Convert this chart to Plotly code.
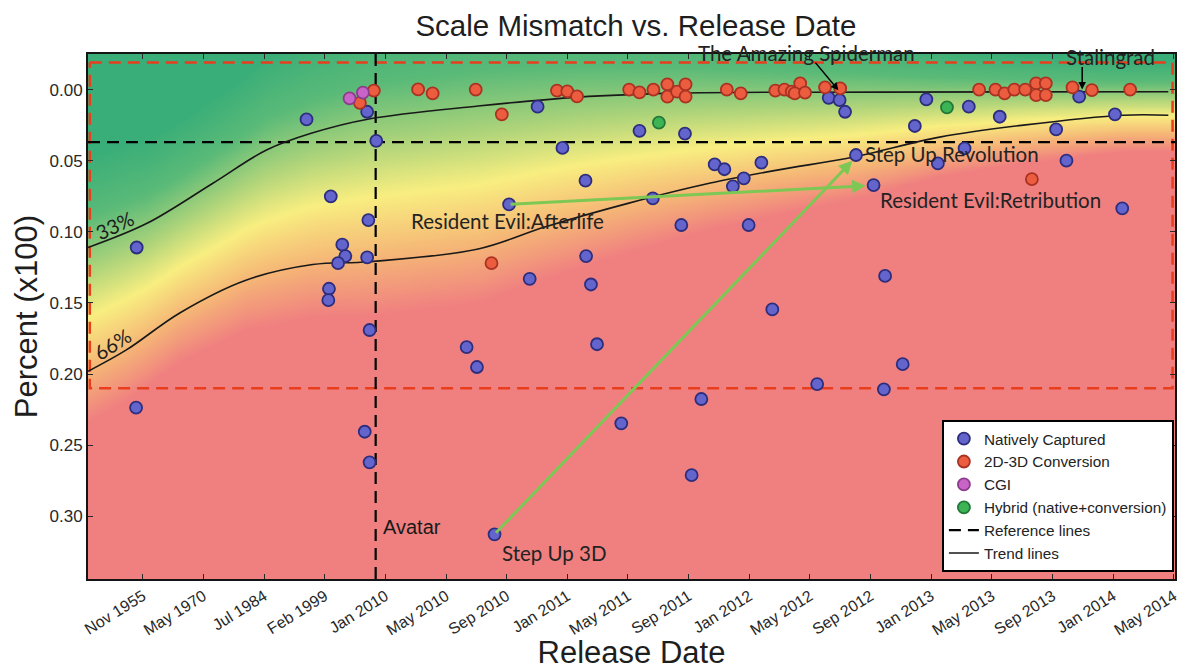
import numpy as np
import plotly.graph_objects as go

# ---------------- data ----------------
tick_labels = ["Nov 1955", "May 1970", "Jul 1984", "Feb 1999", "Jan 2010", "May 2010",
               "Sep 2010", "Jan 2011", "May 2011", "Sep 2011", "Jan 2012", "May 2012",
               "Sep 2012", "Jan 2013", "May 2013", "Sep 2013", "Jan 2014", "May 2014"]
tick_pos = list(range(len(tick_labels)))

native_x = [-0.10, -0.11, 2.70, 3.10, 3.72, 3.29, 3.34, 3.22, 3.70, 3.07, 3.06, 3.74, 3.70, 3.85,
            3.66, 3.74, 5.34, 5.51, 6.51, 6.92, 7.30, 6.04, 6.38, 7.31, 7.39, 7.49, 5.80, 7.89,
            8.19, 8.94, 8.41, 8.88, 9.05, 9.21, 9.43, 9.59, 10.20, 9.91, 9.73, 9.99, 10.38,
            11.12, 11.31, 11.49, 11.58, 11.76, 12.05, 12.24, 12.53, 12.22, 12.92, 12.73, 13.11,
            13.55, 13.62, 14.13, 15.06, 15.23, 15.44, 16.03, 16.15]
native_y = [0.111, 0.2236, 0.021, 0.075, 0.0917, 0.109, 0.117, 0.122, 0.118, 0.140, 0.148, 0.169,
            0.0156, 0.036, 0.2405, 0.262, 0.181, 0.195, 0.012, 0.041, 0.064, 0.0807, 0.133, 0.117,
            0.137, 0.179, 0.3126, 0.2346, 0.029, 0.031, 0.0765, 0.0952, 0.271, 0.2175, 0.0526,
            0.056, 0.0514, 0.0624, 0.068, 0.0952, 0.1545, 0.207, 0.0058, 0.0074, 0.0156, 0.046,
            0.0671, 0.131, 0.193, 0.2107, 0.0069, 0.0256, 0.0519, 0.0413, 0.012, 0.0191, 0.028,
            0.050, 0.005, 0.0174, 0.0835]

conv_x = [3.58, 3.81, 4.54, 4.78, 5.49, 5.92, 5.75, 6.83, 7.00, 7.16, 8.02, 8.19, 8.42, 8.65, 8.65,
          8.81, 8.95, 8.95, 9.63, 9.86, 10.43, 10.58, 10.70, 10.84, 10.75, 10.92, 11.25, 11.50,
          13.79, 14.06, 14.21, 14.37, 14.55, 14.73, 14.73, 14.89, 14.89, 15.33, 15.65, 16.28, 14.66]
conv_y = [0.0093, 0.0008, -0.0001, 0.0027, 0.0, 0.0174, 0.122, 0.0008, 0.0013, 0.0048, 0.0, 0.002,
          0.0, -0.0037, 0.005, 0.0015, -0.0037, 0.005, 0.0, 0.0027, 0.0008, 0.0, 0.0015, -0.0044,
          0.0027, 0.0022, -0.0015, -0.0008, 0.0, 0.0, 0.0027, 0.0, 0.0, -0.0044, 0.0039, -0.0044,
          0.0039, -0.0015, 0.0004, 0.0, 0.063]

cgi_x = [3.41, 3.63]
cgi_y = [0.0062, 0.0022]

hybrid_x = [8.51, 13.26]
hybrid_y = [0.0233, 0.0125]

trend33_x = [-0.903, 0.07, 1.15, 2.04, 2.79, 3.73, 5.53, 7.18, 8.82, 12.1, 16.91]
trend33_y = [0.111, 0.094, 0.066, 0.0425, 0.0306, 0.0207, 0.0116, 0.0053, 0.0025, 0.0018, 0.0015]
trend66_x = [-0.903, -0.27, 0.61, 1.70, 2.80, 3.73, 5.53, 6.63, 8.0, 9.36, 10.46, 11.72, 13.14,
             14.52, 16.16, 16.91]
trend66_y = [0.198, 0.183, 0.157, 0.134, 0.123, 0.121, 0.112, 0.0966, 0.080, 0.0657, 0.0566,
             0.0474, 0.0334, 0.025, 0.018, 0.018]

black_ref_y = 0.037
avatar_x = 3.84
red_ref_top = -0.019
red_ref_bottom = 0.21

X_RANGE = [-0.903, 17.02]
Y_RANGE = [0.344, -0.025]

# ---------------- background gradient ----------------
hx = np.linspace(X_RANGE[0], X_RANGE[1], 260)
hy = np.linspace(Y_RANGE[1], Y_RANGE[0], 200)
c33 = np.interp(hx, trend33_x, trend33_y)
c66 = np.interp(hx, trend66_x, trend66_y)
HX, HY = np.meshgrid(hx, hy)
tz = (HY - c33[None, :]) / (c66[None, :] - c33[None, :] + 0.02)
tz = np.clip(tz, -0.6, 1.2)

bg_scale = [
    [0.0, "rgb(58,174,120)"],
    [0.22, "rgb(90,186,120)"],
    [0.42, "rgb(175,212,122)"],
    [0.585, "rgb(248,238,128)"],
    [0.78, "rgb(245,182,118)"],
    [0.97, "rgb(240,128,128)"],
    [1.0, "rgb(240,128,128)"],
]

fig = go.Figure()
fig.add_trace(go.Heatmap(x=hx, y=hy, z=tz, colorscale=bg_scale, zmin=-0.6, zmax=1.2,
                         zsmooth="best", showscale=False, hoverinfo="skip", showlegend=False))

# red dashed reference box
fig.add_trace(go.Scatter(
    x=[X_RANGE[0] + 0.03, 16.98, 16.98, X_RANGE[0] + 0.03, X_RANGE[0] + 0.03],
    y=[red_ref_top, red_ref_top, red_ref_bottom, red_ref_bottom, red_ref_top],
    mode="lines", line=dict(color="rgb(232,62,30)", width=2.5, dash="12px,7px"),
    showlegend=False, hoverinfo="skip"))

# black dashed reference lines
fig.add_trace(go.Scatter(
    x=[X_RANGE[0], X_RANGE[1], None, avatar_x, avatar_x],
    y=[black_ref_y, black_ref_y, None, Y_RANGE[1], Y_RANGE[0]],
    mode="lines", line=dict(color="black", width=2.2, dash="12px,7px"),
    name="Reference lines", legendrank=5, hoverinfo="skip"))

# trend lines
fig.add_trace(go.Scatter(x=trend33_x, y=trend33_y, mode="lines",
                         line=dict(color="rgb(25,25,25)", width=1.6, shape="spline", smoothing=1.0),
                         name="Trend lines", legendgroup="trend", legendrank=6, hoverinfo="skip"))
fig.add_trace(go.Scatter(x=trend66_x, y=trend66_y, mode="lines",
                         line=dict(color="rgb(25,25,25)", width=1.6, shape="spline", smoothing=1.0),
                         name="Trend lines", legendgroup="trend", showlegend=False, hoverinfo="skip"))

def add_pts(xs, ys, name, fill, edge, rank):
    fig.add_trace(go.Scatter(x=xs, y=ys, mode="markers", name=name, legendrank=rank,
                             marker=dict(size=12, color=fill, line=dict(color=edge, width=1.8))))

add_pts(native_x, native_y, "Natively Captured", "rgb(100,100,205)", "rgb(45,45,125)", 1)
add_pts(conv_x, conv_y, "2D-3D Conversion", "rgb(236,92,62)", "rgb(170,50,35)", 2)
add_pts(cgi_x, cgi_y, "CGI", "rgb(200,100,200)", "rgb(140,60,140)", 3)
add_pts(hybrid_x, hybrid_y, "Hybrid (native+conversion)", "rgb(60,180,85)", "rgb(35,120,55)", 4)

# ---------------- annotations ----------------
ann_font = dict(family="Lato", size=20.5, color="rgb(35,35,35)")
pct_font = dict(family="Lato", size=20, color="rgb(30,30,30)")
green = "rgb(125,200,85)"
annotations = [
    # green arrows
    dict(x=11.70, y=0.050, ax=5.80, ay=0.3126, xref="x", yref="y", axref="x", ayref="y",
         showarrow=True, arrowhead=2, arrowsize=0.9, arrowwidth=3, arrowcolor=green, text=""),
    dict(x=11.92, y=0.0676, ax=6.04, ay=0.0807, xref="x", yref="y", axref="x", ayref="y",
         showarrow=True, arrowhead=2, arrowsize=0.9, arrowwidth=3, arrowcolor=green, text=""),
    # black arrows
    dict(x=11.47, y=0.0005, ax=11.07, ay=-0.020, xref="x", yref="y", axref="x", ayref="y",
         showarrow=True, arrowhead=2, arrowsize=1, arrowwidth=1.5, arrowcolor="black", text=""),
    dict(x=15.49, y=0.0, ax=15.49, ay=-0.017, xref="x", yref="y", axref="x", ayref="y",
         showarrow=True, arrowhead=2, arrowsize=1, arrowwidth=1.5, arrowcolor="black", text=""),
    # labels
    dict(x=10.95, y=1.002, xref="x", yref="paper", text="The Amazing Spiderman", showarrow=False,
         font=ann_font, xanchor="center", yanchor="middle"),
    dict(x=15.96, y=-0.0228, xref="x", yref="y", text="Stalingrad", showarrow=False,
         font=ann_font, xanchor="center", yanchor="middle"),
    dict(x=11.88, y=0.0453, xref="x", yref="y", text="Step Up Revolution", showarrow=False,
         font=ann_font, xanchor="left", yanchor="middle"),
    dict(x=12.13, y=0.0777, xref="x", yref="y", text="Resident Evil:Retribution", showarrow=False,
         font=ann_font, xanchor="left", yanchor="middle"),
    dict(x=6.02, y=0.0924, xref="x", yref="y", text="Resident Evil:Afterlife", showarrow=False,
         font=ann_font, xanchor="center", yanchor="middle"),
    dict(x=5.89, y=0.3257, xref="x", yref="y", text="Step Up 3D", showarrow=False,
         font=ann_font, xanchor="left", yanchor="middle"),
    dict(x=3.93, y=0.3074, xref="x", yref="y", text="Avatar", showarrow=False,
         font=dict(family="Liberation Sans", size=20, color="rgb(25,25,25)"),
         xanchor="left", yanchor="middle"),
    dict(x=-0.46, y=0.0952, xref="x", yref="y", text="33%", showarrow=False, textangle=-25,
         font=pct_font, xanchor="center", yanchor="middle"),
    dict(x=-0.50, y=0.179, xref="x", yref="y", text="66%", showarrow=False, textangle=-33,
         font=pct_font, xanchor="center", yanchor="middle"),
]

axis_common = dict(showline=True, linecolor="rgb(20,20,20)", linewidth=1.8, mirror="ticks",
                   ticks="inside", ticklen=5, tickcolor="rgb(40,40,40)", showgrid=False,
                   zeroline=False)

fig.update_layout(
    width=1181, height=670,
    margin=dict(l=88, r=6, t=54, b=91),
    paper_bgcolor="white", plot_bgcolor="white",
    title=dict(text="Scale Mismatch vs. Release Date", x=0.5385, xref="container", xanchor="center",
               y=0.962, yanchor="middle", yref="container",
               font=dict(family="Liberation Sans", size=29.5, color="rgb(30,30,30)")),
    xaxis=dict(range=X_RANGE, tickvals=tick_pos, ticktext=tick_labels, tickangle=-32,
               ticklabeloverflow="allow",
               tickfont=dict(family="Liberation Sans", size=16, color="rgb(40,40,40)"),
               title=dict(text="Release Date", standoff=4,
                          font=dict(family="Liberation Sans", size=31, color="rgb(30,30,30)")),
               automargin=False, **axis_common),
    yaxis=dict(range=Y_RANGE, tickvals=[0, 0.05, 0.10, 0.15, 0.20, 0.25, 0.30], tickformat=".2f",
               tickfont=dict(family="Liberation Sans", size=17, color="rgb(40,40,40)"),
               title=dict(text="Percent (x100)", standoff=3,
                          font=dict(family="Liberation Sans", size=31, color="rgb(30,30,30)")),
               automargin=False, **axis_common),
    legend=dict(x=0.999, xanchor="right", y=0.013, yanchor="bottom",
                bgcolor="white", bordercolor="black", borderwidth=2,
                font=dict(family="Liberation Sans", size=15.3, color="rgb(35,35,35)"),
                tracegroupgap=0),
    annotations=annotations,
    showlegend=True,
)

fig.write_html("out.html")
